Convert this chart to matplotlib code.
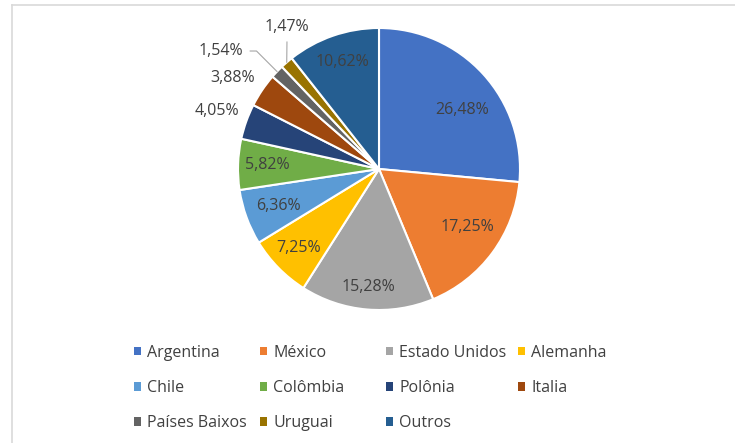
import matplotlib
matplotlib.use('Agg')
import matplotlib.pyplot as plt
import numpy as np
from matplotlib.lines import Line2D

# ---- data ----
countries = ['Argentina', 'México', 'Estado Unidos', 'Alemanha', 'Chile', 'Colômbia',
             'Polônia', 'Italia', 'Países Baixos', 'Uruguai', 'Outros']
shares = [26.48, 17.25, 15.28, 7.25, 6.36, 5.82, 4.05, 3.88, 1.54, 1.47, 10.62]
colors = ['#4472C4', '#ED7D31', '#A5A5A5', '#FFC000', '#5B9BD5', '#70AD47',
          '#264478', '#9E480E', '#636363', '#997300', '#255E91']

# ---- label placement style (radius as fraction of pie radius, angle tweak in deg) ----
label_r = [0.72, 0.75, 0.84, 0.80, 0.76, 0.79, 1.22, 1.22, 1.40, 1.20, 0.80]
label_dt = [-7, 3, 0, 0, 0, 0, 0, 2, 7, -8, 0]
leader = [None] * 8 + ['angle,angleA=0,angleB=-45,rad=0', 'arc3,rad=0', None]

plt.rcParams['font.family'] = ['Open Sans', 'DejaVu Sans']
W, H = 735, 443
fig = plt.figure(figsize=(W / 100, H / 100), dpi=100)
fig.patch.set_facecolor('white')

cx, cy, R = 379, 169, 141
ax = fig.add_axes([(cx - R) / W, (H - cy - R) / H, 2 * R / W, 2 * R / H])
wedges, _ = ax.pie(shares, colors=colors, startangle=90, counterclock=False, radius=1,
                   wedgeprops=dict(edgecolor='white', linewidth=1.5))
ax.set_xlim(-1, 1)
ax.set_ylim(-1, 1)
ax.set_aspect('equal')
ax.axis('off')

txt_color = '#404040'
fs = 11.5
for i, (w, v) in enumerate(zip(wedges, shares)):
    mid = (w.theta1 + w.theta2) / 2
    a = np.deg2rad(mid + label_dt[i])
    x, y = label_r[i] * np.cos(a), label_r[i] * np.sin(a)
    lbl = f"{v:.2f}%".replace('.', ',')
    if leader[i]:
        am = np.deg2rad(mid)
        ex, ey = 1.0 * np.cos(am), 1.0 * np.sin(am)
        ax.annotate(lbl, xy=(ex, ey), xytext=(x, y), ha='center', va='center',
                    fontsize=fs, color=txt_color, annotation_clip=False,
                    arrowprops=dict(arrowstyle='-', color='#A6A6A6', lw=0.8,
                                    shrinkA=3, shrinkB=0,
                                    connectionstyle=leader[i]))
    else:
        ax.text(x, y, lbl, ha='center', va='center', fontsize=fs, color=txt_color)

# ---- legend: 4 columns, row-major order ----
col_x = [134, 260, 386, 518]
ncol = 4
for c in range(ncol):
    idx = list(range(c, len(countries), ncol))
    leg = fig.legend([wedges[i] for i in idx], [countries[i] for i in idx],
                     loc='upper left', bbox_to_anchor=(col_x[c] / W, 1 - 345 / H),
                     frameon=False, fontsize=fs, handlelength=0.42, handleheight=0.42,
                     handletextpad=0.4, labelspacing=1.2, borderpad=0, borderaxespad=0,
                     labelcolor=txt_color)
    for h in leg.legend_handles:
        h.set_edgecolor('none')

# ---- light frame (top and left edges) ----
fig.add_artist(Line2D([12 / W, 1], [1 - 5 / H, 1 - 5 / H], color='#D9D9D9', lw=1.2,
                      transform=fig.transFigure))
fig.add_artist(Line2D([12 / W, 12 / W], [0, 1 - 5 / H], color='#D9D9D9', lw=1.2,
                      transform=fig.transFigure))

fig.savefig('out.png', dpi=100, facecolor='white')
